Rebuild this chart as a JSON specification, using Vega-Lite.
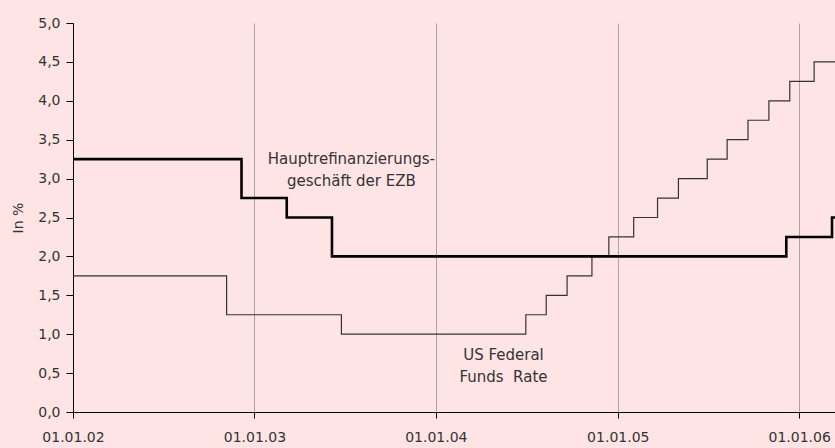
{
  "$schema": "https://vega.github.io/schema/vega-lite/v6.json",
  "width": 762,
  "height": 389,
  "autosize": {"type": "none"},
  "padding": {"left": 73, "top": 23, "right": 0, "bottom": 36},
  "background": "#FFE4E6",
  "config": {
    "view": {"stroke": null, "fill": "#FFE4E6"},
    "font": "DejaVu Sans",
    "axis": {"labelFont": "DejaVu Sans", "titleFont": "DejaVu Sans", "labelColor": "#333333", "titleColor": "#333333"}
  },
  "datasets": {
    "rates": [
      {"series": "EZB", "date": "2002-01-01", "rate": 3.25},
      {"series": "EZB", "date": "2002-12-06", "rate": 2.75},
      {"series": "EZB", "date": "2003-03-07", "rate": 2.5},
      {"series": "EZB", "date": "2003-06-06", "rate": 2.0},
      {"series": "EZB", "date": "2005-12-06", "rate": 2.25},
      {"series": "EZB", "date": "2006-03-08", "rate": 2.5},
      {"series": "EZB", "date": "2006-03-14", "rate": 2.5},
      {"series": "Fed", "date": "2002-01-01", "rate": 1.75},
      {"series": "Fed", "date": "2002-11-06", "rate": 1.25},
      {"series": "Fed", "date": "2003-06-25", "rate": 1.0},
      {"series": "Fed", "date": "2004-06-30", "rate": 1.25},
      {"series": "Fed", "date": "2004-08-10", "rate": 1.5},
      {"series": "Fed", "date": "2004-09-21", "rate": 1.75},
      {"series": "Fed", "date": "2004-11-10", "rate": 2.0},
      {"series": "Fed", "date": "2004-12-14", "rate": 2.25},
      {"series": "Fed", "date": "2005-02-02", "rate": 2.5},
      {"series": "Fed", "date": "2005-03-22", "rate": 2.75},
      {"series": "Fed", "date": "2005-05-03", "rate": 3.0},
      {"series": "Fed", "date": "2005-06-30", "rate": 3.25},
      {"series": "Fed", "date": "2005-08-09", "rate": 3.5},
      {"series": "Fed", "date": "2005-09-20", "rate": 3.75},
      {"series": "Fed", "date": "2005-11-01", "rate": 4.0},
      {"series": "Fed", "date": "2005-12-13", "rate": 4.25},
      {"series": "Fed", "date": "2006-01-31", "rate": 4.5},
      {"series": "Fed", "date": "2006-03-14", "rate": 4.5}
    ],
    "labels": [
      {"date": "2003-07-15", "rate": 3.25, "text": "Hauptrefinanzierungs-\ngeschäft der EZB"},
      {"date": "2004-05-16", "rate": 0.73, "text": "US Federal\nFunds\u00a0 Rate"}
    ]
  },
  "encoding": {
    "x": {
      "field": "date",
      "type": "temporal",
      "scale": {
        "type": "utc",
        "domain": [
          {"year": 2002, "month": 1, "date": 1, "utc": true},
          {"year": 2006, "month": 3, "date": 14, "utc": true}
        ]
      },
      "axis": {
        "title": null,
        "values": [
          {"year": 2002, "month": 1, "date": 1, "utc": true},
          {"year": 2003, "month": 1, "date": 1, "utc": true},
          {"year": 2004, "month": 1, "date": 1, "utc": true},
          {"year": 2005, "month": 1, "date": 1, "utc": true},
          {"year": 2006, "month": 1, "date": 1, "utc": true}
        ],
        "labelExpr": "utcFormat(datum.value, '%d.%m.%y')",
        "labelFontSize": 14,
        "labelPadding": 12,
        "tickSize": 6,
        "tickColor": "#000000",
        "domainColor": "#000000",
        "grid": true,
        "gridColor": "#A6A6A6",
        "gridWidth": 1,
        "labelFlush": false
      }
    },
    "y": {
      "field": "rate",
      "type": "quantitative",
      "scale": {"domain": [0, 5], "nice": false},
      "axis": {
        "title": "In %",
        "titleFontSize": 14,
        "titleFontWeight": "normal",
        "titlePadding": 12,
        "values": [0, 0.5, 1, 1.5, 2, 2.5, 3, 3.5, 4, 4.5, 5],
        "labelExpr": "replace(format(datum.value, '.1f'), '.', ',')",
        "labelFontSize": 14,
        "labelPadding": 6,
        "tickSize": 7,
        "tickColor": "#000000",
        "domainColor": "#000000",
        "grid": false
      }
    }
  },
  "layer": [
    {
      "data": {"name": "rates"},
      "transform": [{"filter": "datum.series === 'Fed'"}],
      "mark": {"type": "line", "interpolate": "step-after", "color": "#333333", "strokeWidth": 1.2}
    },
    {
      "data": {"name": "rates"},
      "transform": [{"filter": "datum.series === 'EZB'"}],
      "mark": {"type": "line", "interpolate": "step-after", "color": "#000000", "strokeWidth": 2.6}
    },
    {
      "data": {"name": "labels"},
      "mark": {"type": "text", "fontSize": 15, "color": "#333333", "lineBreak": "\n", "lineHeight": 22, "align": "center", "baseline": "middle"},
      "encoding": {"text": {"field": "text"}}
    }
  ]
}
